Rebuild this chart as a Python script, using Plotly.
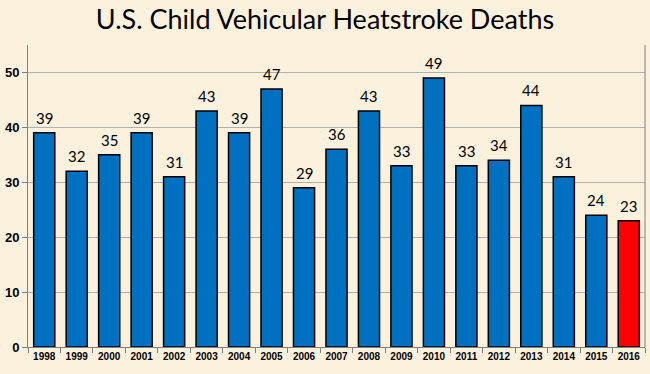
import plotly.graph_objects as go

years = [str(y) for y in range(1998, 2017)]
deaths = [39, 32, 35, 39, 31, 43, 39, 47, 29, 36, 43, 33, 49, 33, 34, 44, 31, 24, 23]
colors = ["#0070C0"] * 18 + ["#FF0000"]
y_ticks = [0, 10, 20, 30, 40, 50]

fig = go.Figure(go.Bar(
    x=years, y=deaths,
    marker=dict(color=colors, line=dict(color="#000000", width=1.5)),
))

# annotations on a category axis: x given as category index
annotations = [dict(x=i, y=d, xref="x", yref="y", text=str(d), showarrow=False,
                    yanchor="bottom", yshift=4,
                    font=dict(family="Lato, Open Sans, sans-serif", size=15, color="#000000"))
               for i, d in enumerate(deaths)]

fig.update_layout(
    width=650, height=374,
    margin=dict(l=28, r=5, t=45, b=27),
    paper_bgcolor="#FBF1DD", plot_bgcolor="#FBF1DD",
    bargap=0.35,
    showlegend=False,
    annotations=annotations,
    title=dict(text="U.S. Child Vehicular Heatstroke Deaths", x=0.5, xanchor="center",
               y=0.948, yanchor="middle",
               font=dict(family="Lato, Open Sans, sans-serif", size=27, color="#000000")),
    xaxis=dict(type="category", showline=True, linecolor="#808080", linewidth=1, ticks="outside",
               tickson="boundaries", ticklen=5, tickcolor="#808080",
               range=[-0.5, len(years) - 0.5],
               tickfont=dict(family="Liberation Sans, Arial", size=10, color="#000000", weight="bold"),
               showgrid=False, mirror=False),
    yaxis=dict(range=[0, 55], tickvals=y_ticks, showline=True, linecolor="#808080", linewidth=1,
               ticks="outside", ticklen=5, tickcolor="#808080",
               tickfont=dict(family="Liberation Sans, Arial", size=13, color="#000000", weight="bold"),
               showgrid=True, gridcolor="#B0B0B0", gridwidth=1, zeroline=False),
    shapes=[dict(type="line", xref="paper", yref="paper", x0=1, x1=1, y0=0, y1=1,
                 line=dict(color="#808080", width=1))],
)

fig.write_html("out.html", config={"displayModeBar": False},
               post_script="document.body.style.margin='0';document.body.style.overflow='hidden';")
